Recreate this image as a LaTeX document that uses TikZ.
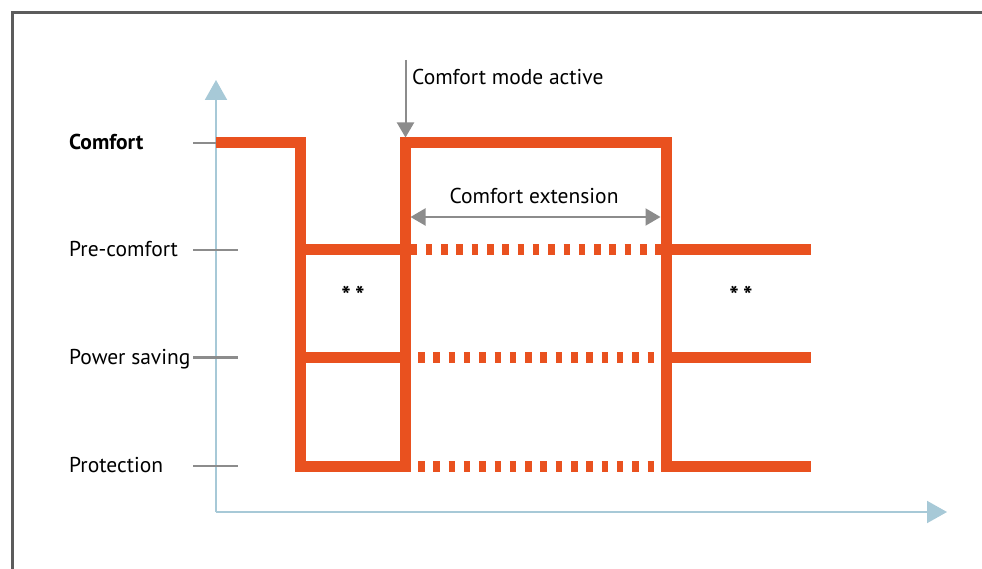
\documentclass[tikz,border=0pt]{standalone}
\usepackage{fontspec}
\setmainfont{PT Sans}
\usetikzlibrary{positioning,arrows.meta}
\definecolor{signal}{HTML}{E9511F}
\definecolor{axisblue}{HTML}{A7C9D7}
\definecolor{markgray}{HTML}{8C8C8C}
\definecolor{framegray}{HTML}{5C5C5C}

\begin{document}
\begin{tikzpicture}[
  x=1pt, y=-1pt,
  axis/.style={draw=axisblue, line width=2pt, -{Triangle[length=20pt, width=22pt]}},
  tickmark/.style={draw=markgray, line width=2.5pt},
  level/.style={draw=signal, line width=11pt, line cap=butt, line join=miter},
  ext/.style={level, dash pattern=on 6.5pt off 8.8pt},
  hint/.style={draw=markgray, line width=2pt},
  lbl/.style={font=\fontsize{21.5}{24}\selectfont, anchor=base west, inner sep=0pt},
  note/.style={font=\fontsize{21.5}{24}\selectfont, inner sep=0pt},
  stars/.style={note, font=\fontsize{25}{26}\selectfont\bfseries},
  >={Triangle[length=15pt, width=17pt]}
]
  \useasboundingbox (0,0) rectangle (982,569);
  \draw[framegray, line width=3pt, line join=miter] (12.7,569) -- (12.7,12.7) -- (982,12.7);

  % axes
  \coordinate (origin) at (216,512);
  \coordinate (ytip) at (216,80);
  \coordinate (xtip) at (947,512);
  \draw[axis] (origin) -- (ytip);
  \draw[axis] (origin) -- (xtip);

  % levels
  \draw[tickmark] (193,143) -- (238,143);
  \draw[tickmark] (193,250) -- (238,250);
  \draw[tickmark] (193,357.5) -- (238,357.5);
  \draw[tickmark] (193,466) -- (238,466);
  \node[lbl, font=\fontsize{21.5}{24}\selectfont\bfseries] (comfort) at (69,150) {Comfort};
  \node[lbl] (precomfort) at (69,257) {Pre-comfort};
  \node[lbl] (powersave) at (69,364.5) {Power saving};
  \node[lbl] (protection) at (69,472) {Protection};

  % signal
  \draw[level] (216,143) -- (300.5,143) -- (300.5,466) -- (405.5,466) -- (405.5,143)
    -- (666,143) -- (666,466) -- (811,466);
  \draw[level] (300.5,250) -- (405.5,250);
  \draw[level] (300.5,357.5) -- (405.5,357.5);
  \draw[level] (666,250) -- (811,250);
  \draw[level] (666,357.5) -- (811,357.5);
  \draw[ext] (410.5,250) -- (661,250);
  \draw[ext] (418,357.5) -- (656,357.5);
  \draw[ext] (418,466) -- (656,466);

  \node[stars] (starsleft) at (353,295) {*\,*};
  \node[stars] (starsright) at (741,295) {*\,*};

  % comfort mode / extension
  \coordinate (activetop) at (405.5,60);
  \coordinate (activehit) at (405.5,137.5);
  \draw[hint, ->] (activetop) -- (activehit);
  \node[note, anchor=base west] (activelbl) at (412,85) {Comfort mode active};

  \coordinate (extstart) at (410.5,217);
  \coordinate (extend) at (660.5,217);
  \draw[hint, <->] (extstart) -- (extend);
  \node[note, anchor=base] (extlbl) at (534,204) {Comfort extension};
\end{tikzpicture}
\end{document}
